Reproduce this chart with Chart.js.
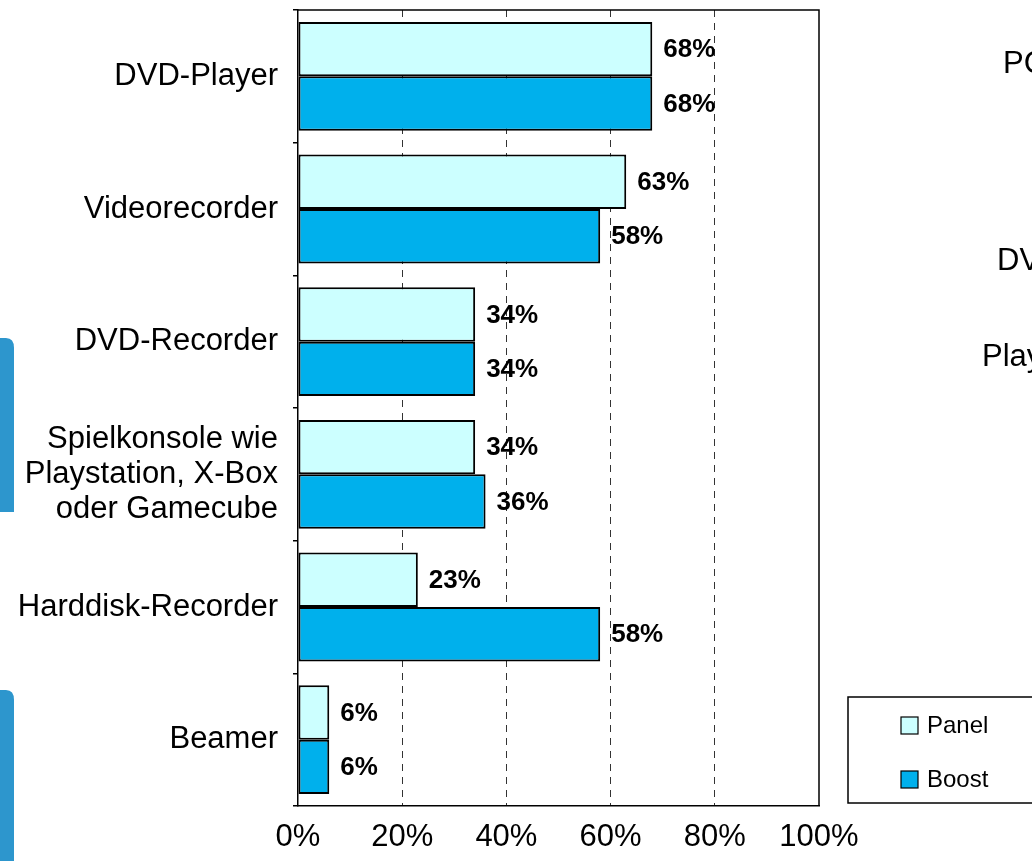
<!DOCTYPE html>
<html>
<head>
<meta charset="utf-8">
<script src="https://cdn.jsdelivr.net/npm/chart.js@4"></script>
<style>
  html, body { margin: 0; padding: 0; background: #ffffff; }
  canvas { display: block; }
</style>
</head>
<body>
<canvas id="chart" width="1032" height="861"></canvas>
<script>
const categories = [
    "DVD-Player",
    "Videorecorder",
    "DVD-Recorder",
    ["Spielkonsole wie", "Playstation, X-Box", "oder Gamecube"],
    "Harddisk-Recorder",
    "Beamer"
];
const panelValues = [68, 63, 34, 34, 23, 6];
const boostValues = [68, 58, 34, 36, 58, 6];
const seriesNames = ["Panel", "Boost"];
const xTicks = [0, 20, 40, 60, 80, 100];

const FONT = "'Liberation Sans', Arial, sans-serif";
const panelColor = "#ccffff";
const boostColor = "#00b0ec";

// value labels right of each bar
const valueLabels = {
    id: "valueLabels",
    afterDatasetsDraw(chart) {
        const ctx = chart.ctx;
        ctx.save();
        ctx.font = "bold 26px " + FONT;
        ctx.fillStyle = "#000";
        ctx.textBaseline = "middle";
        ctx.textAlign = "left";
        chart.data.datasets.forEach((ds, i) => {
            chart.getDatasetMeta(i).data.forEach((bar, j) => {
                ctx.fillText(ds.data[j] + "%", bar.x + 11, bar.y + 1);
            });
        });
        ctx.restore();
    }
};

// top/right frame of the plot, legend box and slide leftovers
const decorations = {
    id: "decorations",
    beforeDraw(chart) {
        const ctx = chart.ctx;
        ctx.save();
        ctx.fillStyle = "#2d96cd";
        [[338, 512], [690, 870]].forEach(([t, b]) => {
            ctx.beginPath();
            ctx.moveTo(0, t);
            ctx.lineTo(6, t);
            ctx.quadraticCurveTo(14, t, 14, t + 10);
            ctx.lineTo(14, b);
            ctx.lineTo(0, b);
            ctx.closePath();
            ctx.fill();
        });
        ctx.restore();
    },
    afterDraw(chart) {
        const ctx = chart.ctx;
        const a = chart.chartArea;
        ctx.save();
        ctx.strokeStyle = "#000";
        ctx.lineWidth = 1.5;
        ctx.beginPath();
        ctx.moveTo(a.left, a.top);
        ctx.lineTo(a.right, a.top);
        ctx.lineTo(a.right, a.bottom);
        ctx.stroke();

        // legend
        ctx.strokeRect(848, 697, 200, 106);
        ctx.font = "24px " + FONT;
        ctx.textBaseline = "middle";
        ctx.textAlign = "left";
        chart.data.datasets.forEach((ds, i) => {
            const cy = 725 + i * 54;
            ctx.fillStyle = ds.backgroundColor;
            ctx.fillRect(901, cy - 8, 17, 17);
            ctx.lineWidth = 1.2;
            ctx.strokeRect(901, cy - 8, 17, 17);
            ctx.fillStyle = "#000";
            ctx.fillText(ds.label, 927, cy + 1);
        });

        // cut-off text of the neighbouring slide
        ctx.font = "31px " + FONT;
        ctx.textBaseline = "middle";
        ctx.fillText("PC", 1003, 64);
        ctx.fillText("DV", 997, 261);
        ctx.fillText("Play", 982, 357);
        ctx.restore();
    }
};

new Chart(document.getElementById("chart"), {
    type: "bar",
    data: {
        labels: categories,
        datasets: [
            {
                label: seriesNames[0],
                data: panelValues,
                backgroundColor: panelColor,
                borderColor: "#000",
                borderWidth: 2,
                borderSkipped: false
            },
            {
                label: seriesNames[1],
                data: boostValues,
                backgroundColor: boostColor,
                borderColor: "#000",
                borderWidth: 2,
                borderSkipped: false
            }
        ]
    },
    options: {
        indexAxis: "y",
        responsive: false,
        animation: false,
        devicePixelRatio: 1,
        categoryPercentage: 0.82,
        barPercentage: 1,
        layout: { padding: { top: 10, right: 213, left: 0, bottom: 0 } },
        plugins: {
            legend: { display: false },
            tooltip: { enabled: false }
        },
        scales: {
            x: {
                min: 0,
                max: 100,
                afterBuildTicks(scale) {
                    scale.ticks = xTicks.map(v => ({ value: v }));
                },
                afterFit(scale) { scale.height = 55; },
                ticks: {
                    callback: v => v + "%",
                    color: "#000",
                    font: { family: FONT, size: 31 },
                    padding: 13,
                    maxRotation: 0
                },
                grid: {
                    drawTicks: false,
                    color: c => (c.tick && (c.tick.value === 0 || c.tick.value === 100)) ? "rgba(0,0,0,0)" : "#333",
                    lineWidth: 1
                },
                border: { display: true, color: "#000", width: 1.5, dash: [7, 6] }
            },
            y: {
                afterFit(scale) {
                    scale.width = 298;
                    scale.paddingTop = 0;
                    scale.paddingBottom = 0;
                },
                ticks: {
                    color: "#000",
                    font: { family: FONT, size: 31, lineHeight: 1.14 },
                    padding: 15
                },
                grid: {
                    drawOnChartArea: false,
                    drawTicks: true,
                    tickLength: 5,
                    color: "#000",
                    lineWidth: 1.5
                },
                border: { display: true, color: "#000", width: 1.5 }
            }
        }
    },
    plugins: [valueLabels, decorations]
});
</script>
</body>
</html>
